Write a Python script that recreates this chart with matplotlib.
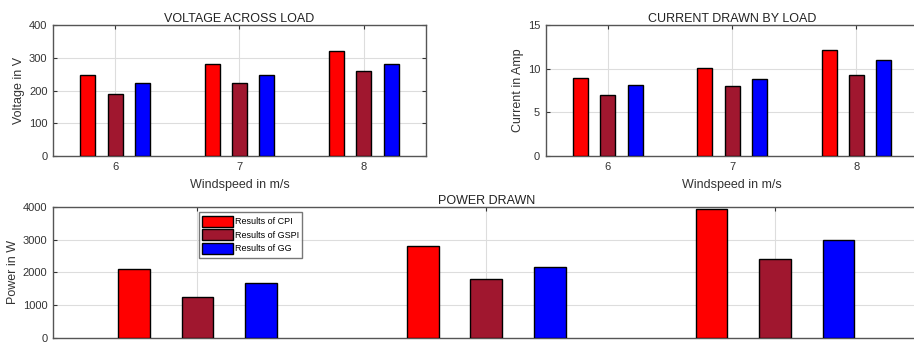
import numpy as np
import matplotlib.pyplot as plt

plt.rcParams['font.family'] = ['Liberation Sans', 'DejaVu Sans']

windspeed = [6, 7, 8]
series_names = ["Results of CPI", "Results of GSPI", "Results of GG"]
colors = ["#ff0000", "#a0172f", "#0000ff"]

voltage_cpi = [248, 280, 320]
voltage_gspi = [188, 222, 260]
voltage_gg = [222, 248, 280]

current_cpi = [8.9, 10.1, 12.1]
current_gspi = [7.0, 8.0, 9.3]
current_gg = [8.1, 8.8, 11.0]

power_cpi = [2100, 2800, 3930]
power_gspi = [1260, 1800, 2400]
power_gg = [1680, 2180, 3000]


def grouped(ax, data, width):
    x = np.array(windspeed, dtype=float)
    offsets = [-0.22, 0.0, 0.22]
    for vals, off, c, name in zip(data, offsets, colors, series_names):
        ax.bar(x + off, vals, width=width, color=c, edgecolor="black",
               linewidth=1.0, label=name, zorder=3)
    ax.set_xlim(5.5, 8.5)
    ax.set_xticks(windspeed)
    ax.grid(True, color="#dddddd", linewidth=0.8, zorder=0)
    ax.tick_params(direction="in", top=True, right=True, length=3, pad=4,
                   labelsize=8, colors="#333333", labelcolor="#333333")
    for s in ax.spines.values():
        s.set_color("#555555")
        s.set_linewidth(1.0)


fig = plt.figure(figsize=(9.14, 3.43), dpi=100)

ax1 = fig.add_axes([0.058, 0.545, 0.408, 0.382])
grouped(ax1, [voltage_cpi, voltage_gspi, voltage_gg], 0.12)
ax1.set_ylim(0, 400)
ax1.set_yticks([0, 100, 200, 300, 400])
ax1.set_title("VOLTAGE ACROSS LOAD", fontsize=9, pad=2, color="#222222")
ax1.set_ylabel("Voltage in V", fontsize=9, labelpad=3, color="#333333")
ax1.set_xlabel("Windspeed in m/s", fontsize=9, labelpad=5, color="#333333")

ax2 = fig.add_axes([0.597, 0.545, 0.408, 0.382])
grouped(ax2, [current_cpi, current_gspi, current_gg], 0.12)
ax2.set_ylim(0, 15)
ax2.set_yticks([0, 5, 10, 15])
ax2.set_title("CURRENT DRAWN BY LOAD", fontsize=9, pad=2, color="#222222")
ax2.set_ylabel("Current in Amp", fontsize=9, labelpad=3, color="#333333")
ax2.set_xlabel("Windspeed in m/s", fontsize=9, labelpad=5, color="#333333")

ax3 = fig.add_axes([0.058, 0.0146, 0.948, 0.382])
grouped(ax3, [power_cpi, power_gspi, power_gg], 0.11)
ax3.set_ylim(0, 4000)
ax3.set_yticks([0, 1000, 2000, 3000, 4000])
ax3.tick_params(labelbottom=False)
ax3.set_title("POWER DRAWN", fontsize=9, pad=2, color="#222222")
ax3.set_ylabel("Power in W", fontsize=9, labelpad=3, color="#333333")
ax3.legend(loc="upper left", bbox_to_anchor=(0.168, 0.962), fontsize=6.5,
           frameon=True, fancybox=False, edgecolor="#555555",
           handlelength=3.4, handleheight=1.5, handletextpad=0.2,
           labelspacing=0.3, borderpad=0.4, borderaxespad=0)

fig.savefig("out.png", dpi=100)
